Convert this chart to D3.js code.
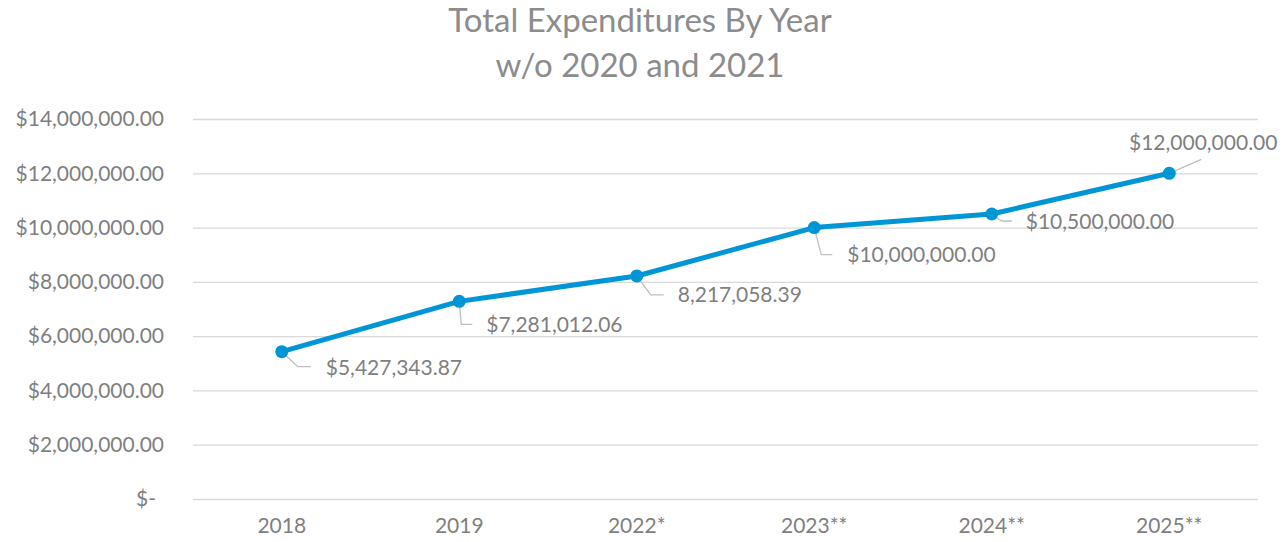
<!DOCTYPE html>
<html>
<head>
<meta charset="utf-8">
<script src="https://cdn.jsdelivr.net/npm/d3@7"></script>
<style>
  body { margin: 0; background: #fff; }
  svg text { font-family: Lato, "Open Sans", sans-serif; }
</style>
</head>
<body>
<div id="chart"></div>
<script>
const years = ["2018", "2019", "2022*", "2023**", "2024**", "2025**"];
const totals = [5427343.87, 7281012.06, 8217058.39, 10000000, 10500000, 12000000];
const pointLabels = ["$5,427,343.87", "$7,281,012.06", "8,217,058.39", "$10,000,000.00", "$10,500,000.00", "$12,000,000.00"];
const yTicks = [0, 2000000, 4000000, 6000000, 8000000, 10000000, 12000000, 14000000];

// leader line layout for each label: elbow point, end of line, text anchor
const leaders = [
  {ex: 16, ey: 15, hx: 29, tx: 44, ty: 16},
  {ex: 2, ey: 23, hx: 13, tx: 27, ty: 23},
  {ex: 14, ey: 19, hx: 27, tx: 41, ty: 19},
  {ex: 7, ey: 27, hx: 18, tx: 33, ty: 27},
  {ex: 10, ey: 7, hx: 20, tx: 34, ty: 8},
  {ex: 32, ey: -14, hx: 32, tx: 34, ty: -31, anchor: "middle"}
];

const dim = { width: 1285, height: 542 };
const m = { top: 119, right: 27, bottom: 43, left: 193 };

const svg = d3.select("#chart").append("svg")
  .attr("width", dim.width)
  .attr("height", dim.height);

const x = d3.scaleBand()
  .domain(years)
  .range([m.left, dim.width - m.right]);

const y = d3.scaleLinear()
  .domain([0, 14000000])
  .range([dim.height - m.bottom, m.top]);

// title
svg.append("text")
  .attr("x", 640).attr("y", 32)
  .attr("text-anchor", "middle")
  .attr("fill", "#8c8c8c")
  .style("font-size", "33px")
  .text("Total Expenditures By Year");
svg.append("text")
  .attr("x", 640).attr("y", 77)
  .attr("text-anchor", "middle")
  .attr("fill", "#8c8c8c")
  .style("font-size", "33px")
  .text("w/o 2020 and 2021");

// gridlines + y labels
const fmt = d => d === 0 ? "$-" : "$" + d3.format(",.2f")(d);
const yAxis = d3.axisLeft(y)
  .tickValues(yTicks)
  .tickSize(-(dim.width - m.left - m.right))
  .tickPadding(29)
  .tickFormat(fmt);

svg.append("g")
  .attr("transform", `translate(${m.left},0)`)
  .call(yAxis)
  .call(g => g.select(".domain").remove())
  .call(g => g.selectAll("line").attr("stroke", "#d9d9d9").attr("stroke-width", 1.3))
  .call(g => g.selectAll("text")
    .attr("fill", "#7f7f7f")
    .style("font-size", "21px"))
  .call(g => g.selectAll(".tick").filter(d => d === 0).select("text").attr("dx", -8));

// x labels
const xAxis = d3.axisBottom(x).tickSize(0).tickPadding(19);
svg.append("g")
  .attr("transform", `translate(0,${dim.height - m.bottom})`)
  .call(xAxis)
  .call(g => g.select(".domain").remove())
  .call(g => g.selectAll("text")
    .attr("fill", "#7f7f7f")
    .style("font-size", "21px"));

const pts = years.map((yr, i) => ({
  yr, v: totals[i], label: pointLabels[i], lay: leaders[i],
  px: x(yr) + x.bandwidth() / 2, py: y(totals[i])
}));

// leader lines
svg.append("g").selectAll("path")
  .data(pts)
  .join("path")
  .attr("fill", "none")
  .attr("stroke", "#bfbfbf")
  .attr("stroke-width", 1.3)
  .attr("d", d => `M${d.px},${d.py}L${d.px + d.lay.ex},${d.py + d.lay.ey}L${d.px + d.lay.hx},${d.py + d.lay.ey}`);

// line
const line = d3.line().x(d => d.px).y(d => d.py);
svg.append("path")
  .datum(pts)
  .attr("fill", "none")
  .attr("stroke", "#0096d6")
  .attr("stroke-width", 5)
  .attr("stroke-linejoin", "round")
  .attr("d", line);

svg.append("g").selectAll("circle")
  .data(pts)
  .join("circle")
  .attr("cx", d => d.px)
  .attr("cy", d => d.py)
  .attr("r", 6.5)
  .attr("fill", "#0096d6");

// data labels
svg.append("g").selectAll("text")
  .data(pts)
  .join("text")
  .attr("x", d => d.px + d.lay.tx)
  .attr("y", d => d.py + d.lay.ty)
  .attr("dy", "0.35em")
  .attr("text-anchor", d => d.lay.anchor || "start")
  .attr("fill", "#7f7f7f")
  .style("font-size", "21px")
  .text(d => d.label);
</script>
</body>
</html>
